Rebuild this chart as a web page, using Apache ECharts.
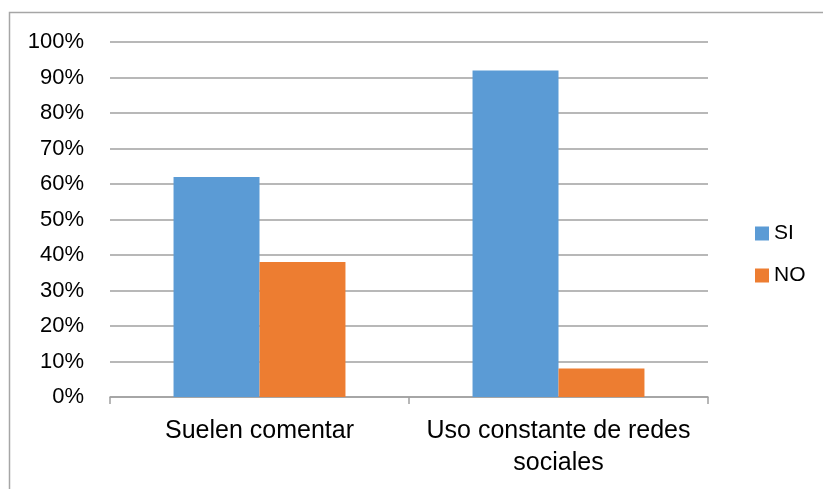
<!DOCTYPE html>
<html><head><meta charset="utf-8">
<script src="https://cdn.jsdelivr.net/npm/echarts@6/dist/echarts.min.js"></script>
<style>html,body{margin:0;padding:0;background:#fff}#c{width:823px;height:489px}</style>
</head><body><div id="c"></div>
<script>
const categories = ['Suelen comentar', 'Uso constante de redes\nsociales'];
const seriesNames = ['SI', 'NO'];
const siValues = [0.62, 0.92];
const noValues = [0.38, 0.08];
const colors = ['#5B9BD5', '#ED7D31'];

const chart = echarts.init(document.getElementById('c'));
const font = 'Liberation Sans, Arial, sans-serif';
chart.setOption({
  animation: false,
  graphic: [{type:'rect', shape:{x:9.5,y:12.5,width:830,height:500}, style:{fill:'none', stroke:'#a6a6a6', lineWidth:1.5}, silent:true}],
  grid: {left:110, right:115, top:42, bottom:92, containLabel:false},
  legend: {orient:'vertical', left:750, top:218, itemWidth:14, itemHeight:14, itemGap:21, icon:'rect',
    textStyle:{fontFamily:font, fontSize:21, color:'#000'}, data: seriesNames},
  xAxis: {type:'category', data:categories,
    axisLine:{lineStyle:{color:'#a0a0a0', width:1.5}},
    axisTick:{show:true, length:7, interval:0, lineStyle:{color:'#a0a0a0', width:1.5}},
    axisLabel:{fontFamily:font, fontSize:25, color:'#000', margin:18, lineHeight:32, interval:0}},
  yAxis: {type:'value', min:0, max:1, interval:0.1,
    axisLine:{show:false}, axisTick:{show:false},
    axisLabel:{fontFamily:font, fontSize:22, color:'#000', margin:26, formatter: v => Math.round(v*100)+'%'},
    splitLine:{lineStyle:{color:'#a0a0a0', width:1.5}}},
  series: [
    {name:seriesNames[0], type:'bar', data:siValues, itemStyle:{color:colors[0]}, barGap:'0%', barCategoryGap:'42.5%'},
    {name:seriesNames[1], type:'bar', data:noValues, itemStyle:{color:colors[1]}}
  ]
});
</script></body></html>
